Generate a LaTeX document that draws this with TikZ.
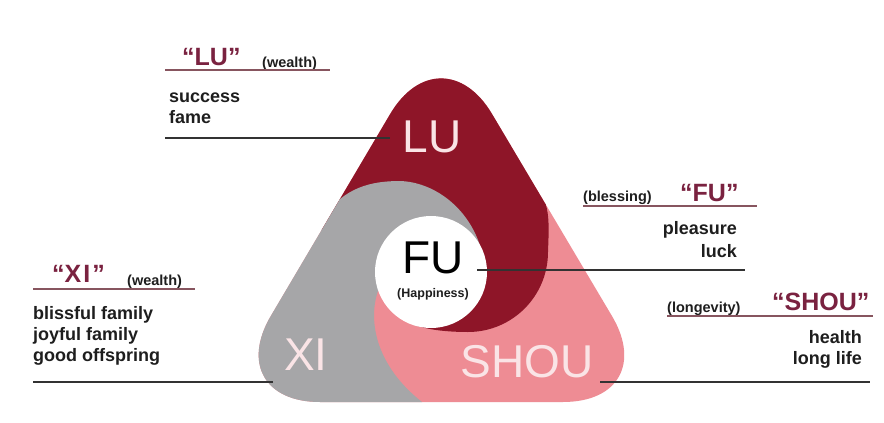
\documentclass[tikz,border=0pt]{standalone}
\usepackage{fontspec}
\setmainfont{Liberation Sans}
\definecolor{lured}{RGB}{142,21,40}
\definecolor{xigray}{RGB}{166,166,168}
\definecolor{shoupink}{RGB}{238,140,148}
\definecolor{labpink}{RGB}{250,228,230}
\definecolor{headred}{RGB}{122,34,64}
\definecolor{headln}{RGB}{135,85,95}
\definecolor{itemln}{RGB}{50,50,50}
\definecolor{txt}{RGB}{30,30,30}
\begin{document}
\begin{tikzpicture}[x=1pt,y=-1pt,
  bigtxt/.style={font=\fontsize{46}{46}\selectfont, anchor=base, inner sep=0},
  headtxt/.style={font=\bfseries\fontsize{25}{25}\selectfont, text=headred, inner sep=0, anchor=base west},
  paren/.style={font=\bfseries\fontsize{14.5}{14.5}\selectfont, text=txt, inner sep=0},
  item/.style={font=\bfseries\fontsize{18}{18}\selectfont, text=txt, inner sep=0},
  headline/.style={draw=headln, line width=1.3pt},
  itemline/.style={draw=itemln, line width=2pt}]
\useasboundingbox (0,0) rectangle (884,423);
\fill[white] (0,0) rectangle (884,423);
% shapes
\begin{scope}
\clip[rounded corners=100pt] (441,402) -- (663,402) -- (441,28) -- (220,402) -- cycle;
\fill[shoupink] (150,0) rectangle (750,430);
\fill[lured] (300,0) -- (700,0) -- (700,150) -- (541,192)
  .. controls (550,210) and (549,225) .. (548,252)
  .. controls (548,296.2) and (512.2,332) .. (468,332)
  .. controls (448,332) and (430,330) .. (418,326)
  -- (431,272) -- (380,230) -- (300,230) -- cycle;
\fill[xigray] (150,260) -- (325,215)
  .. controls (345,188) and (370,181) .. (400,181)
  .. controls (432,182) and (466,205) .. (479.5,244)
  -- (431,272) -- (378,291)
  .. controls (368,320) and (375,365) .. (422,402)
  -- (422,430) -- (150,430) -- cycle;
\end{scope}
\fill[white] (431,272) circle[radius=56];
% big labels
\node[bigtxt, text=labpink] (lu) at (432,152) {LU};
\node[bigtxt, text=black] (fu) at (433,273) {FU};
\node[font=\bfseries\fontsize{12.5}{12.5}\selectfont, anchor=base, inner sep=0, text=txt] (hap) at (433,297) {(Happiness)};
\node[bigtxt, text=labpink] (xi) at (306,370) {XI};
\node[bigtxt, text=labpink] (shou) at (527,377) {SHOU};
% LU label
\node[headtxt] (luhead) at (182,65) {“LU”};
\node[paren, anchor=base west] (luparen) at (262,67) {(wealth)};
\coordinate (luh1) at (165,70); \coordinate (luh2) at (330,70);
\draw[headline] (luh1) -- (luh2);
\node[item, anchor=base west] (lui1) at (169,102) {success};
\node[item, anchor=base west] (lui2) at (169,123) {fame};
\coordinate (lua) at (165,138); \coordinate (lub) at (390,138);
\draw[itemline] (lua) -- (lub);
% FU label
\node[paren, anchor=base west] (fuparen) at (583,201) {(blessing)};
\node[headtxt] (fuhead) at (680,201) {“FU”};
\coordinate (fuh1) at (583,206); \coordinate (fuh2) at (757,206);
\draw[headline] (fuh1) -- (fuh2);
\node[item, anchor=base east] (fui1) at (737,234) {pleasure};
\node[item, anchor=base east] (fui2) at (737,257) {luck};
\coordinate (fua) at (477,270); \coordinate (fub) at (745,270);
\draw[itemline] (fua) -- (fub);
% XI label
\node[headtxt] (xihead) at (52,282) {“X\kern2pt I\kern2pt”};
\node[paren, anchor=base west] (xiparen) at (127,285) {(wealth)};
\coordinate (xih1) at (33,289); \coordinate (xih2) at (195,289);
\draw[headline] (xih1) -- (xih2);
\node[item, anchor=base west] (xii1) at (33,319) {blissful family};
\node[item, anchor=base west] (xii2) at (33,340) {joyful family};
\node[item, anchor=base west] (xii3) at (33,361) {good offspring};
\coordinate (xia) at (33,382); \coordinate (xib) at (273,382);
\draw[itemline] (xia) -- (xib);
% SHOU label
\node[paren, anchor=base west] (shparen) at (667,312) {(longevity)};
\node[headtxt] (shhead) at (772,310) {“SHOU”};
\coordinate (shh1) at (667,316); \coordinate (shh2) at (873,316);
\draw[headline] (shh1) -- (shh2);
\node[item, anchor=base east] (shi1) at (862,343) {health};
\node[item, anchor=base east] (shi2) at (862,364) {long life};
\coordinate (sha) at (600,382); \coordinate (shb) at (870,382);
\draw[itemline] (sha) -- (shb);
\end{tikzpicture}
\end{document}
